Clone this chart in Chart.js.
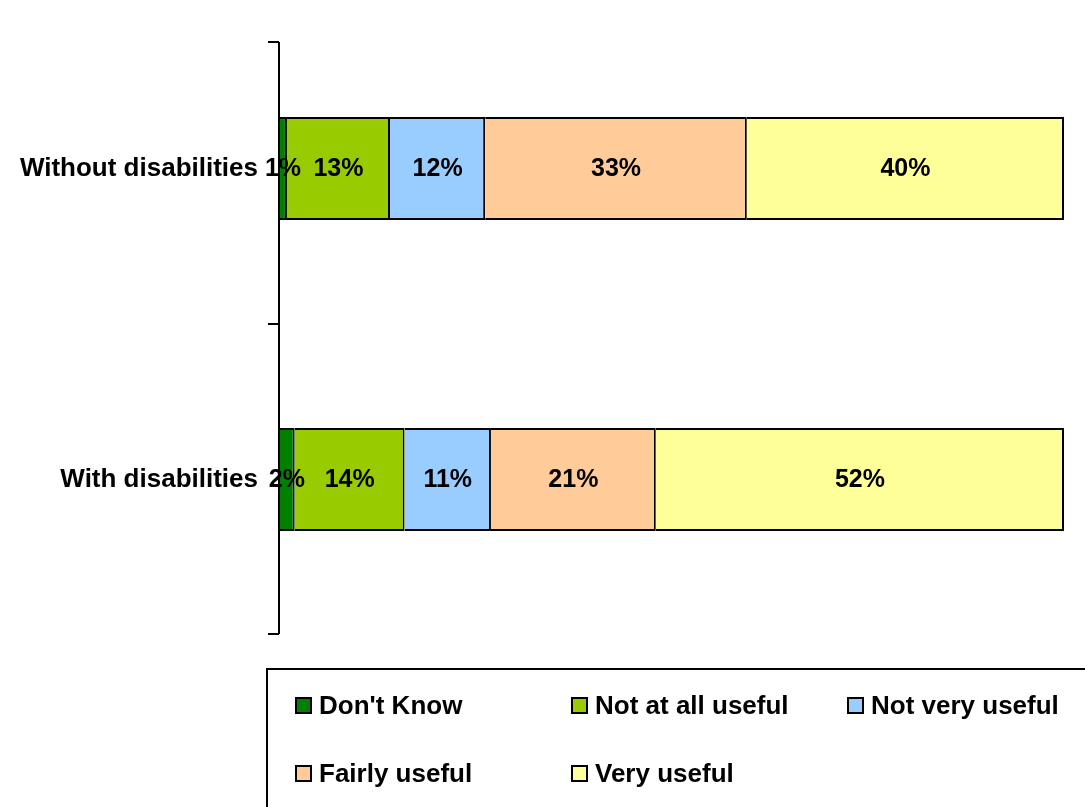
<!DOCTYPE html>
<html>
<head>
<meta charset="utf-8">
<script src="https://cdn.jsdelivr.net/npm/chart.js@4/dist/chart.umd.min.js"></script>
<style>
  body { margin: 0; background: #fff; }
  #wrap { position: relative; width: 1085px; height: 807px; overflow: hidden; }
  #legend {
    position: absolute; left: 266px; top: 668px; width: 840px; height: 160px;
    border: 2px solid #000; box-sizing: border-box;
    font: bold 26px 'Liberation Sans', Arial, sans-serif; color: #000;
  }
  .item { position: absolute; display: flex; align-items: center; height: 30px; white-space: nowrap; }
  .box { width: 13px; height: 13px; border: 2px solid #000; margin-right: 7px; }
</style>
</head>
<body>
<div id="wrap">
  <canvas id="chart"></canvas>
  <div id="legend"></div>
</div>
<script>
const groups = ["Without disabilities", "With disabilities"]
const answers = ["Don't Know", "Not at all useful", "Not very useful", "Fairly useful", "Very useful"]
const colors = ["#008000", "#99CC00", "#99CCFF", "#FFCC99", "#FFFF99"]

// percentages per answer, one entry per group
const dontKnow = [1, 2]
const notAtAll = [13, 14]
const notVery = [12, 11]
const fairly = [33, 21]
const very = [40, 52]

const series = [dontKnow, notAtAll, notVery, fairly, very]

// bars are stacked to 100%, so each group is scaled by its own total
const totals = groups.map((g, i) => series.reduce((sum, s) => sum + s[i], 0))

function makeDataset(values, idx) {
  return {
    label: answers[idx],
    raw: values,
    data: values.map((v, i) => v / totals[i] * 100),
    backgroundColor: colors[idx],
    borderColor: "#000",
    // only the right side, so each divider between segments stays 2px
    borderWidth: { top: 2, bottom: 2, left: 0, right: 2 },
    borderSkipped: false,
    categoryPercentage: 1,
    barPercentage: 0.331
  }
}

const font = "'Liberation Sans', Arial, sans-serif"

// value labels in the middle of each segment
const valueLabels = {
  id: "valueLabels",
  afterDatasetsDraw(chart) {
    const ctx = chart.ctx
    ctx.save()
    ctx.font = "bold 25px " + font
    ctx.fillStyle = "#000"
    ctx.textAlign = "center"
    ctx.textBaseline = "middle"
    chart.data.datasets.forEach((ds, d) => {
      chart.getDatasetMeta(d).data.forEach((bar, i) => {
        ctx.fillText(ds.raw[i] + "%", (bar.x + bar.base) / 2, bar.y + 1)
      })
    })
    ctx.restore()
  }
}

// the category axis line with its tick marks
const axisLine = {
  id: "axisLine",
  afterDraw(chart) {
    const y = chart.scales.y
    const x = chart.chartArea.left
    const mid = (y.getPixelForTick(0) + y.getPixelForTick(1)) / 2
    const top = 42
    const bottom = chart.chartArea.bottom - 1
    const ctx = chart.ctx
    ctx.save()
    ctx.strokeStyle = "#000"
    ctx.lineWidth = 2
    ctx.beginPath()
    ctx.moveTo(x, top)
    ctx.lineTo(x, bottom)
    ;[top, mid, bottom].forEach(t => {
      ctx.moveTo(x - 11, t)
      ctx.lineTo(x, t)
    })
    ctx.stroke()
    ctx.restore()
  }
}

const chart = new Chart(document.getElementById("chart"), {
  type: "bar",
  data: {
    labels: groups,
    datasets: series.map(makeDataset)
  },
  options: {
    indexAxis: "y",
    responsive: true,
    maintainAspectRatio: false,
    animation: false,
    layout: { padding: { top: 13, bottom: 172, right: 21, left: 0 } },
    plugins: {
      legend: { display: false },
      tooltip: { enabled: false }
    },
    scales: {
      x: { stacked: true, min: 0, max: 100, display: false },
      y: {
        stacked: true,
        border: { display: false },
        grid: { display: false, drawTicks: false },
        ticks: { color: "#000", padding: 21, font: { family: font, size: 26, weight: "bold" } },
        afterFit(scale) {
          scale.width = 279
          scale.paddingTop = 0
          scale.paddingBottom = 0
        }
      }
    }
  },
  plugins: [valueLabels, axisLine]
})

// legend laid out in three columns under the plot
const legend = document.getElementById("legend")
chart.data.datasets.forEach((ds, i) => {
  const item = document.createElement("div")
  item.className = "item"
  item.style.left = (27 + (i % 3) * 276) + "px"
  item.style.top = (20 + Math.floor(i / 3) * 68) + "px"
  item.innerHTML = '<span class="box" style="background:' + ds.backgroundColor + '"></span>' + ds.label
  legend.appendChild(item)
})
</script>
</body>
</html>
